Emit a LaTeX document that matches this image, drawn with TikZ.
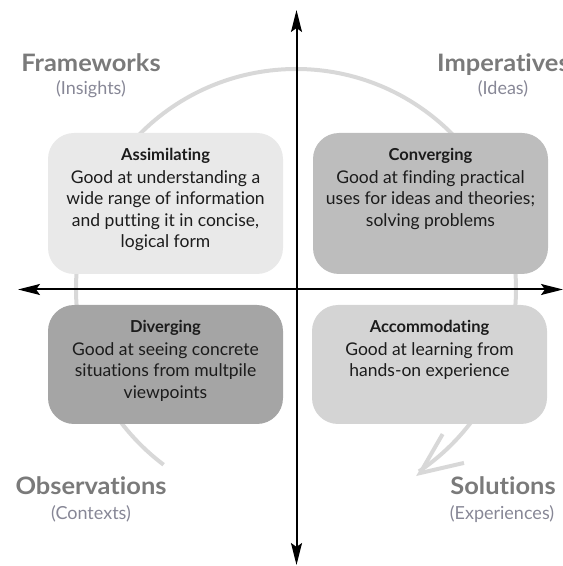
\documentclass[tikz,border=0pt]{standalone}
\usepackage{fontspec}
\setmainfont{Lato}[Ligatures=NoCommon]
\newfontfamily\headfont{Lato}[FakeStretch=1.06, Ligatures=NoCommon]
\usetikzlibrary{arrows.meta}
\definecolor{cyclegray}{HTML}{D8D8D8}
\definecolor{headgray}{HTML}{7A7A7A}
\definecolor{subgray}{RGB}{135,135,150}
\definecolor{fillA}{HTML}{E9E9E9}
\definecolor{fillB}{HTML}{BDBDBD}
\definecolor{fillC}{HTML}{A5A5A5}
\definecolor{fillD}{HTML}{D4D4D4}
\definecolor{inkdark}{HTML}{1C1C1C}
\tikzset{
  axisline/.style={line width=2pt, black, {Stealth[length=22pt,width=11pt,inset=4pt]}-{Stealth[length=22pt,width=11pt,inset=4pt]}},
  cycleline/.style={line width=4pt, cyclegray},
  stylebox/.style={rounded corners=26pt, minimum width=235pt, inner sep=0pt},
  boxtext/.style={align=center, inner sep=0pt, text=inkdark, font=\fontsize{17.5}{21.5}\selectfont},
  headlabel/.style={inner sep=0pt, text=headgray, font=\headfont\fontsize{24}{28}\selectfont\bfseries},
  sublabel/.style={inner sep=0pt, text=subgray, font=\fontsize{18}{22}\selectfont},
}
\newcommand{\boxtitle}[1]{{\fontsize{16.5}{21.5}\selectfont\bfseries #1}}
\begin{document}
\begin{tikzpicture}[x=1pt,y=1pt]
\useasboundingbox (0,0) rectangle (563,566);

% learning cycle arc with open arrow head
\coordinate (O) at (296,277);
\draw[cycleline] ([shift={(233:220)}]O) arc[start angle=233, end angle=-56, radius=220];
\coordinate (tip) at ([shift={(-56:222)}]O);
\draw[cycleline, line join=miter] ([shift={(60:45)}]tip) -- (tip) -- ([shift={(13:45)}]tip);

% axes
\coordinate (vtop) at (296.5,556);
\coordinate (vbot) at (296.5,1);
\coordinate (hleft) at (18,276.5);
\coordinate (hright) at (563,276.5);
\draw[axisline] (vbot) -- (vtop);
\draw[axisline] (hleft) -- (hright);

% quadrant boxes
\node[stylebox, fill=fillA, minimum height=141pt] (assim) at (165.5,362.5) {};
\node[stylebox, fill=fillB, minimum height=141pt] (conv) at (430.5,362.5) {};
\node[stylebox, fill=fillC, minimum height=119pt] (div) at (165.5,201.5) {};
\node[stylebox, fill=fillD, minimum height=119pt] (acc) at (429.5,201.5) {};

\node[boxtext, anchor=north] (assimtxt) at ([yshift=-15pt]assim.north)
  {\boxtitle{Assimilating}\\[1.5pt]Good at understanding a\\wide range of information\\and putting it in concise,\\logical form};
\node[boxtext, anchor=north] (convtxt) at ([yshift=-15pt]conv.north)
  {\boxtitle{Converging}\\[1.5pt]Good at finding practical\\uses for ideas and theories;\\solving problems};
\node[boxtext, anchor=north] (divtxt) at ([yshift=-15pt]div.north)
  {\boxtitle{Diverging}\\[1.5pt]Good at seeing concrete\\situations from multpile\\viewpoints};
\node[boxtext, anchor=north] (acctxt) at ([yshift=-15pt]acc.north)
  {\boxtitle{Accommodating}\\[1.5pt]Good at learning from\\hands-on experience};

% corner labels
\node[headlabel, anchor=base] (fw) at (91,494) {Frameworks};
\node[sublabel, anchor=base] (fwsub) at (91,471) {(Insights)};
\node[headlabel, anchor=base west] (imp) at (437,494) {Imperatives};
\node[sublabel, anchor=base] (impsub) at (503,471) {(Ideas)};
\node[headlabel, anchor=base] (obs) at (91,71) {Observations};
\node[sublabel, anchor=base] (obssub) at (91,46) {(Contexts)};
\node[headlabel, anchor=base] (sol) at (503,71) {Solutions};
\node[sublabel, anchor=base] (solsub) at (502,46) {(Experiences)};
\end{tikzpicture}
\end{document}
